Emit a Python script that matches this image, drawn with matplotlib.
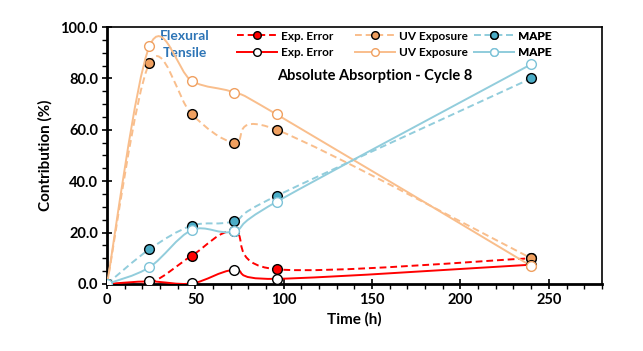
import matplotlib
matplotlib.use("Agg")
import matplotlib.pyplot as plt
from matplotlib.path import Path
from matplotlib.patches import PathPatch
from matplotlib.lines import Line2D
from matplotlib.ticker import MultipleLocator, FormatStrFormatter

plt.rcParams['font.family'] = ['Lato', 'DejaVu Sans']
plt.rcParams['font.weight'] = 'bold'

# time points (h)
time_h = [0, 24, 48, 72, 96, 240]

# flexural series (dashed, filled markers)
flex_err = [0, 0.3, 11.0, 20.5, 5.7, 10.0]
flex_uv = [0, 86.0, 66.0, 55.0, 60.0, 10.0]
flex_mape = [0, 13.5, 22.7, 24.5, 34.3, 80.0]

# tensile series (solid, open markers)
ten_err = [0, 1.0, 0.2, 5.5, 2.0, 7.5]
ten_uv = [0, 92.5, 79.0, 74.5, 66.0, 7.0]
ten_mape = [0, 6.5, 21.0, 20.5, 32.0, 85.5]

RED = '#FF0000'
ORANGE_FILL = '#F0A060'
ORANGE_LINE = '#F9BE8C'
TEAL_FILL = '#4BACC6'
BLUE_LINE = '#92CDDC'
DASH = (0, (3.5, 2))


def smooth_path(xs, ys):
    # excel style smoothed line: cubic bezier between points, catmull-rom tangents
    pts = list(zip(xs, ys))
    n = len(pts)
    verts = [pts[0]]
    codes = [Path.MOVETO]
    for i in range(n - 1):
        p0 = pts[i - 1] if i > 0 else pts[i]
        p1 = pts[i]
        p2 = pts[i + 1]
        p3 = pts[i + 2] if i + 2 < n else pts[i + 1]
        c1 = (p1[0] + (p2[0] - p0[0]) / 6, p1[1] + (p2[1] - p0[1]) / 6)
        c2 = (p2[0] - (p3[0] - p1[0]) / 6, p2[1] - (p3[1] - p1[1]) / 6)
        verts += [c1, c2, p2]
        codes += [Path.CURVE4] * 3
    return Path(verts, codes)


def draw_series(ax, ys, line_color, ls, face, edge, z):
    patch = PathPatch(smooth_path(time_h, ys), facecolor='none', edgecolor=line_color,
                      lw=1.4, linestyle=ls, zorder=z, capstyle='butt')
    ax.add_patch(patch)
    ax.plot(time_h, ys, linestyle='none', marker='o', markersize=7,
            markerfacecolor=face, markeredgecolor=edge, markeredgewidth=1.0, zorder=z + 0.5)
    # legend handle uses smaller marker like the original
    return Line2D([], [], color=line_color, lw=1.4, linestyle=ls, marker='o', markersize=5.5,
                  markerfacecolor=face, markeredgecolor=edge, markeredgewidth=1.0)


fig = plt.figure(figsize=(6.43, 3.51), dpi=100)
ax = fig.add_axes([0.1664, 0.191, 0.7696, 0.732])

h1 = draw_series(ax, flex_err, RED, DASH, RED, 'black', 3)
h2 = draw_series(ax, flex_uv, ORANGE_LINE, DASH, ORANGE_FILL, 'black', 3)
h3 = draw_series(ax, flex_mape, BLUE_LINE, DASH, TEAL_FILL, 'black', 3)
h4 = draw_series(ax, ten_err, RED, '-', 'white', 'black', 4)
h5 = draw_series(ax, ten_uv, ORANGE_LINE, '-', 'white', '#F0A060', 4)
h6 = draw_series(ax, ten_mape, BLUE_LINE, '-', 'white', '#7DC3D8', 5)

ax.set_xlim(0, 280)
ax.set_ylim(0, 100)
ax.xaxis.set_major_locator(MultipleLocator(50))
ax.xaxis.set_minor_locator(MultipleLocator(10))
ax.yaxis.set_major_locator(MultipleLocator(20))
ax.yaxis.set_minor_locator(MultipleLocator(5))
ax.yaxis.set_major_formatter(FormatStrFormatter('%.1f'))
ax.tick_params(which='major', direction='inout', length=7, width=1.2, labelsize=10.5, pad=3)
ax.tick_params(which='minor', direction='out', length=3.5, width=1.0)
for side in ['left', 'bottom']:
    ax.spines[side].set_linewidth(2.0)
for side in ['top', 'right']:
    ax.spines[side].set_linewidth(1.2)

ax.set_xlabel('Time (h)', fontsize=11, fontweight='bold', labelpad=4)
ax.set_ylabel('Contribution (%)', fontsize=11, fontweight='bold', labelpad=6)

# one small legend per column so the spacing matches the original
columns = [((h1, h4), 'Exp. Error', 0.263),
           ((h2, h5), 'UV Exposure', 0.501),
           ((h3, h6), 'MAPE', 0.742)]
for handles, label, x0 in columns:
    leg = ax.legend(list(handles), [label, label], loc='upper left',
                    bbox_to_anchor=(x0, 0.986), frameon=False, borderpad=0, borderaxespad=0,
                    handlelength=3.4, handletextpad=0.35, labelspacing=0.45,
                    prop={'weight': 'bold', 'size': 8.5})
    ax.add_artist(leg)

ax.text(0.158, 0.965, 'Flexural', transform=ax.transAxes, ha='center', va='center',
        fontsize=10, fontweight='bold', color='#2E75B6')
ax.text(0.158, 0.899, 'Tensile', transform=ax.transAxes, ha='center', va='center',
        fontsize=10, fontweight='bold', color='#2E75B6')
ax.text(0.541, 0.809, 'Absolute Absorption - Cycle 8', transform=ax.transAxes,
        ha='center', va='center', fontsize=10.5, fontweight='bold')

fig.savefig('out.png', dpi=100)
